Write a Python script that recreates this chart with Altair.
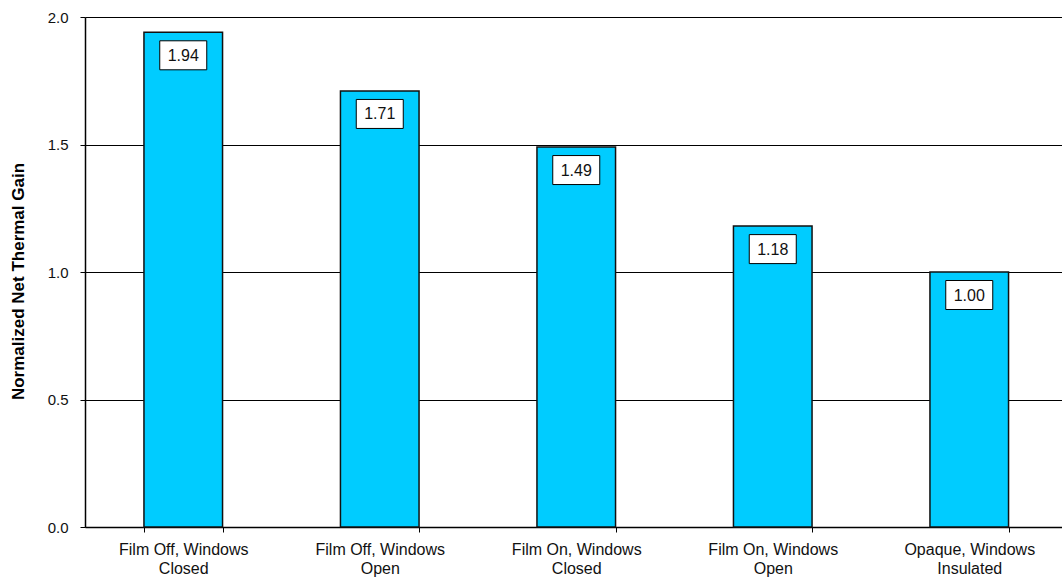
import altair as alt
import pandas as pd

# Scenario labels (two lines each) and their normalized net thermal gain
categories = [
    "Film Off, Windows\nClosed",
    "Film Off, Windows\nOpen",
    "Film On, Windows\nClosed",
    "Film On, Windows\nOpen",
    "Opaque, Windows\nInsulated",
]
gains = [1.94, 1.71, 1.49, 1.18, 1.00]
y_ticks = [0.0, 0.5, 1.0, 1.5, 2.0]

df = pd.DataFrame({"scenario": categories, "gain": gains})

FONT = "Liberation Sans"

base = alt.Chart(df).encode(
    x=alt.X(
        "scenario:N",
        sort=categories,
        title=None,
        scale=alt.Scale(range=[0, 982.5], paddingInner=0.6, paddingOuter=0.3),
        axis=alt.Axis(
            labelAngle=0,
            labelExpr="split(datum.label, '\\n')",
            labelFont=FONT,
            labelFontSize=16,
            labelColor="#111111",
            labelLineHeight=19,
            labelPadding=9,
            tickBand="extent",
            tickSize=5,
            tickColor="black",
            domainColor="black",
            domainWidth=1.5,
            grid=False,
        ),
    )
)

bars = base.mark_bar(color="#00CCFF", stroke="#111111", strokeWidth=1.5).encode(
    y=alt.Y(
        "gain:Q",
        scale=alt.Scale(domain=[0, 2]),
        title="Normalized Net Thermal Gain",
        axis=alt.Axis(
            values=y_ticks,
            format=".1f",
            labelFont=FONT,
            labelFontSize=15,
            labelColor="#111111",
            labelPadding=12,
            tickSize=5,
            tickColor="black",
            domainColor="black",
            domainWidth=1.5,
            grid=True,
            gridColor="black",
            gridWidth=1,
            titleFont=FONT,
            titleFontSize=17,
            titleFontWeight="bold",
            titleColor="black",
            titleAngle=-90,
            titleX=-67,
            titleY=264,
            titleAlign="center",
            titleBaseline="middle",
        ),
    )
)

# White value boxes sitting just below each bar top
boxes = base.mark_bar(
    fill="white", stroke="black", strokeWidth=1, size=47, yOffset=8.5, y2Offset=37.5
).encode(y="gain:Q", y2="gain:Q")

labels = base.mark_text(
    font=FONT, fontSize=16, color="#111111", baseline="middle", yOffset=23.5
).encode(y="gain:Q", text=alt.Text("gain:Q", format=".2f"))

chart = (
    alt.layer(bars, boxes, labels)
    .properties(
        width=977,
        height=510,
        autosize=alt.AutoSizeParams(type="none"),
        padding={"left": 85, "top": 17, "right": 0, "bottom": 50},
        background="white",
    )
    .configure_view(stroke=None)
)

chart.save("out.html", embed_options={"renderer": "svg", "actions": False})
